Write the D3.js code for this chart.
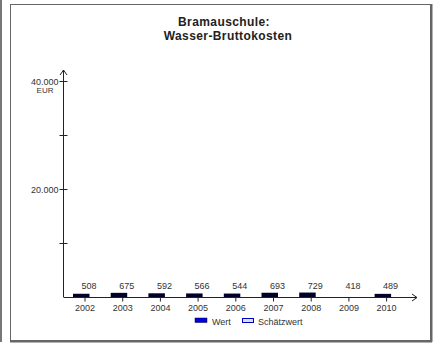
<!DOCTYPE html>
<html><head><meta charset="utf-8">
<script src="https://cdn.jsdelivr.net/npm/d3@7"></script>
<style>body{margin:0;background:#fff}svg{display:block}text{font-family:"Liberation Sans",Arial,sans-serif;fill:#222}</style>
</head><body><svg id="c" width="433" height="343"></svg>
<script>
const years = ["2002","2003","2004","2005","2006","2007","2008","2009","2010"];
const wert = [508,675,592,566,544,693,729,null,489];
const schaetzwert = [null,null,null,null,null,null,null,418,null];
const yTicks = [20000,40000];
const yMinor = [10000,30000];
const titleLines = ["Bramauschule:","Wasser-Bruttokosten"];
const legendItems = ["Wert","Schätzwert"];

const svg = d3.select("#c");
// outer lines / frame
svg.append("line").attr("x1",1).attr("x2",1).attr("y1",0).attr("y2",342).attr("stroke","#777").attr("stroke-width",2);
svg.append("rect").attr("x",10.5).attr("y",4.5).attr("width",420).attr("height",336).attr("fill","none").attr("stroke","#666");
svg.append("line").attr("x1",431.5).attr("x2",431.5).attr("y1",4).attr("y2",342).attr("stroke","#666").attr("stroke-width",2);
svg.append("line").attr("x1",10).attr("x2",432).attr("y1",341.5).attr("y2",341.5).attr("stroke","#666").attr("stroke-width",2);

// title
svg.append("text").attr("x",224).attr("y",26).attr("text-anchor","middle").style("font-size","12px").style("font-weight","bold").style("letter-spacing","0.4px").text(titleLines[0]);
svg.append("text").attr("x",228).attr("y",40).attr("text-anchor","middle").style("font-size","12px").style("font-weight","bold").style("letter-spacing","0.4px").text(titleLines[1]);

const x = d3.scaleBand().domain(years).range([66.15,405.45]).padding(0);
const y = d3.scaleLinear().domain([0,40000]).range([297,80.5]);
const cx = d => x(d) + x.bandwidth()/2;
const ax0 = 63.5;

// y axis
const g = svg.append("g");
g.append("line").attr("x1",ax0).attr("x2",ax0).attr("y1",y(0)).attr("y2",70).attr("stroke","#222");
g.append("path").attr("d",`M${ax0-3.5},${75} L${ax0},${70} L${ax0+3.5},${75}`).attr("fill","none").attr("stroke","#222");
yTicks.concat(yMinor).forEach(v=>{
  g.append("line").attr("x1",ax0-4).attr("x2",ax0+4).attr("y1",Math.round(y(v))+0.5).attr("y2",Math.round(y(v))+0.5).attr("stroke","#222");
});
yTicks.forEach(v=>{
  g.append("text").attr("x",ax0-5).attr("y",Math.round(y(v))+3.5).attr("text-anchor","end").style("font-size","9px").style("fill","#333").text(d3.format(",")(v).replace(/,/g,"."));
});
g.append("text").attr("x",45).attr("y",Math.round(y(40000))+12).attr("text-anchor","middle").style("font-size","8px").style("fill","#333").text("EUR");

// x axis
const by = Math.round(y(0))+0.5;
g.append("line").attr("x1",ax0).attr("x2",417).attr("y1",by).attr("y2",by).attr("stroke","#222");
g.append("path").attr("d",`M${412},${by-3.5} L${417},${by} L${412},${by+3.5}`).attr("fill","none").attr("stroke","#222");
years.forEach(yr=>{
  g.append("line").attr("x1",cx(yr)).attr("x2",cx(yr)).attr("y1",by).attr("y2",by+4).attr("stroke","#222");
  g.append("text").attr("x",cx(yr)).attr("y",by+13).attr("text-anchor","middle").style("font-size","9px").style("fill","#333").text(yr);
});

// bars
const bw = 16.5;
years.forEach((yr,i)=>{
  const v = wert[i];
  if(v!=null){
    g.append("rect").attr("x",cx(yr)-12).attr("y",y(v)-0.5).attr("width",bw).attr("height",y(0)-y(v)+0.5)
      .attr("fill","#000028").attr("stroke","none");
  }
  const val = v!=null ? v : schaetzwert[i];
  g.append("text").attr("x",cx(yr)+4).attr("y",y(0)-8).attr("text-anchor","middle").style("font-size","9px").style("fill","#333").text(val);
});

// legend
const ly = 321;
svg.append("rect").attr("x",195).attr("y",ly-3).attr("width",12).attr("height",4.5).attr("fill","#0000e0").attr("stroke","#000033").attr("stroke-width",0.5);
svg.append("text").attr("x",212).attr("y",ly+3.5).style("font-size","9px").style("fill","#333").text(legendItems[0]);
svg.append("rect").attr("x",242.5).attr("y",ly-2.5).attr("width",11).attr("height",4).attr("fill","#d8e0ff").attr("stroke","#0000c0").attr("stroke-width",1);
svg.append("text").attr("x",258).attr("y",ly+3.5).style("font-size","9px").style("fill","#333").text(legendItems[1]);
</script></body></html>
